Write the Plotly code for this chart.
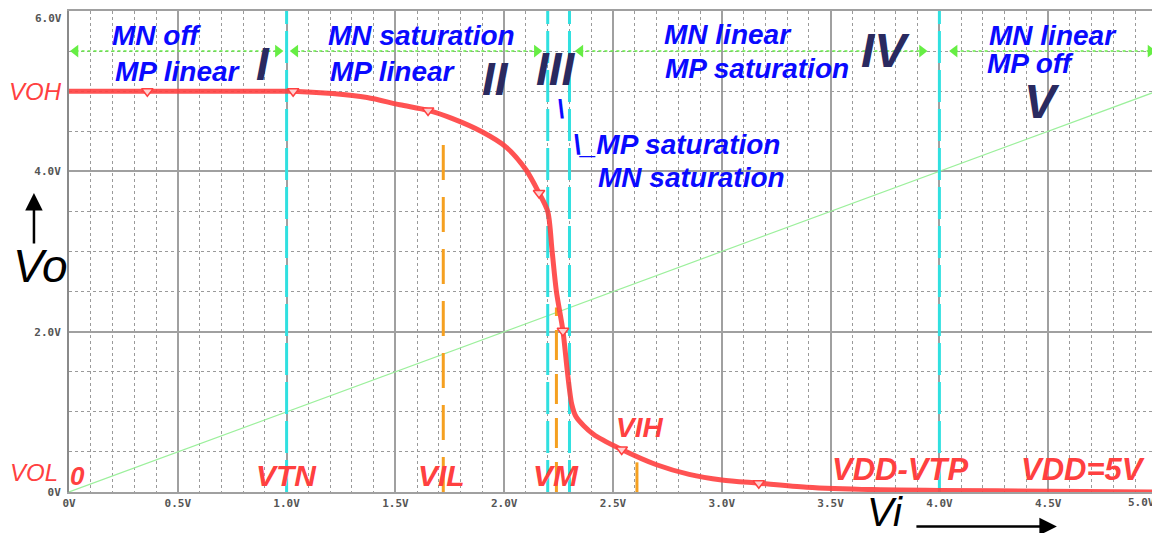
import plotly.graph_objects as go

# ---- data ----
vi = [0, 0.36, 1.0, 1.03, 1.21, 1.37, 1.52, 1.65, 1.76, 1.90, 2.01, 2.10, 2.16, 2.20, 2.22,
      2.24, 2.27, 2.29, 2.31, 2.33, 2.41, 2.54, 2.70, 2.85, 3.0, 3.17, 3.39, 3.69, 4.0, 4.5, 5.0]
vo = [5.0, 5.0, 5.0, 5.0, 4.97, 4.92, 4.83, 4.76, 4.66, 4.49, 4.30, 4.02, 3.73, 3.50, 3.01,
      2.50, 2.01, 1.51, 1.10, 0.94, 0.72, 0.53, 0.34, 0.22, 0.15, 0.11, 0.06, 0.03, 0.02, 0.01, 0.0]
marker_vi = [0.36, 1.03, 1.65, 2.16, 2.27, 2.54, 3.17]
marker_vo = [5.0, 5.0, 4.76, 3.73, 2.01, 0.53, 0.11]
diag_vi = [0, 5]
diag_vo = [0, 5]
region_bounds = [1.0, 2.2, 2.3, 4.0]          # cyan boundary lines
arrow_segments = [(0.03, 0.96), (1.04, 2.15), (2.35, 3.92), (4.07, 4.97)]
arrow_level = 5.5
vil, vm, vih = 1.72, 2.24, 2.61
vil_top, vm_top, vih_top = 4.47, 2.3, 0.37
x_tickvals = [0, 0.5, 1, 1.5, 2, 2.5, 3, 3.5, 4, 4.5, 5]
x_ticktext = ["0V", "0.5V", "1.0V", "1.5V", "2.0V", "2.5V", "3.0V", "3.5V", "4.0V", "4.5V", "5.0V"]
y_tickvals = [0, 2, 4, 6]
y_ticktext = ["0V", "2.0V", "4.0V", "6.0V"]
X_MAX, Y_MAX = 5.0, 6.0

RED = "#ff4040"
BLUE = "#0a0aff"
NAVY = "#2a2a60"
CYAN = "#30e0e0"
ORANGE = "#f5a020"
GREEN = "#66ee44"
FONT = "Liberation Sans, Arial, sans-serif"
TICKFONT = dict(family="DejaVu Sans Mono", size=11, color="#555", weight="bold")

fig = go.Figure()

# y = x reference line
fig.add_trace(go.Scatter(x=diag_vi, y=diag_vo, mode="lines",
                         line=dict(color="#9cf09c", width=1.2), hoverinfo="skip"))

# cyan region boundaries
for xb in region_bounds:
    fig.add_trace(go.Scatter(x=[xb, xb], y=[0, 6], mode="lines",
                             line=dict(color=CYAN, width=3, dash="32px,7px"), hoverinfo="skip"))

# orange VIL / VM / VIH lines
fig.add_trace(go.Scatter(x=[vil, vil], y=[0, vil_top], mode="lines",
                         line=dict(color=ORANGE, width=3, dash="35px,17px"), hoverinfo="skip"))
fig.add_trace(go.Scatter(x=[vm, vm], y=[0, vm_top], mode="lines",
                         line=dict(color=ORANGE, width=3, dash="30px,14px"), hoverinfo="skip"))
fig.add_trace(go.Scatter(x=[vih, vih], y=[0, vih_top], mode="lines",
                         line=dict(color=ORANGE, width=3), hoverinfo="skip"))

# green dashed arrows
for a, b in arrow_segments:
    fig.add_trace(go.Scatter(x=[a, b], y=[arrow_level, arrow_level], mode="lines+markers",
                             line=dict(color=GREEN, width=1.5, dash="dot"),
                             marker=dict(symbol=["triangle-left", "triangle-right"], size=11,
                                         color=GREEN),
                             hoverinfo="skip"))

# transfer curve
fig.add_trace(go.Scatter(x=vi, y=vo, mode="lines",
                         line=dict(color=RED, width=5, shape="spline", smoothing=0.8),
                         opacity=0.9, hoverinfo="skip"))
fig.add_trace(go.Scatter(x=marker_vi, y=marker_vo, mode="markers",
                         marker=dict(symbol="triangle-down", size=10, color="#ffd0d0",
                                     line=dict(color=RED, width=1.5)),
                         hoverinfo="skip"))


def txt(x, y, s, color, size, bold=True, italic=True, paper=False):
    ref = dict(xref="paper", yref="paper", x=x / X_MAX, y=y / Y_MAX) if paper else \
        dict(xref="x", yref="y", x=x, y=y)
    fig.add_annotation(**ref, text=s, showarrow=False, xanchor="center", yanchor="middle",
                       font=dict(family=FONT, size=size, color=color,
                                 weight="bold" if bold else "normal",
                                 style="italic" if italic else "normal"))


# blue region descriptions
txt(0.40, 5.70, "MN off", BLUE, 28)
txt(0.50, 5.25, "MP linear", BLUE, 28)
txt(1.62, 5.70, "MN saturation", BLUE, 28)
txt(1.49, 5.25, "MP linear", BLUE, 28)
txt(2.26, 4.78, "\\", BLUE, 26)
txt(2.79, 4.33, "\\_MP saturation", BLUE, 28)
txt(2.86, 3.92, "MN saturation", BLUE, 28)
txt(3.03, 5.71, "MN linear", BLUE, 28)
txt(3.16, 5.28, "MP saturation", BLUE, 28)
txt(4.52, 5.70, "MN linear", BLUE, 28)
txt(4.42, 5.34, "MP off", BLUE, 28)

# region numerals
txt(0.89, 5.34, "I", NAVY, 46)
txt(1.96, 5.15, "II", NAVY, 46)
txt(2.24, 5.28, "III", NAVY, 46)
txt(3.75, 5.51, "IV", NAVY, 48)
txt(4.47, 4.87, "V", NAVY, 48)

# red voltage labels
txt(-0.156, 4.99, "VOH", RED, 24, bold=False, paper=True)
txt(-0.161, 0.24, "VOL", RED, 24, bold=False, paper=True)
txt(0.041, 0.20, "0", RED, 26)
txt(1.00, 0.20, "VTN", RED, 30)
txt(1.71, 0.20, "VIL", RED, 30)
txt(2.24, 0.20, "VM", RED, 30)
txt(2.62, 0.80, "VIH", RED, 28)
txt(3.82, 0.28, "VDD-VTP", RED, 31)
txt(4.66, 0.28, "VDD=5V", RED, 31)

# axis names
txt(-0.133, 2.82, "Vo", "black", 46, bold=False, paper=True)
txt(3.75, -0.25, "Vi", "black", 40, bold=False, paper=True)
fig.add_annotation(x=4.54 / X_MAX, y=-0.43 / Y_MAX, ax=-142, ay=0, xref="paper", yref="paper",
                   text="", showarrow=True, arrowhead=2, arrowsize=1.4, arrowwidth=2.5,
                   arrowcolor="black")
fig.add_annotation(x=-0.161 / X_MAX, y=3.73 / Y_MAX, ax=0, ay=52, xref="paper", yref="paper",
                   text="", showarrow=True, arrowhead=2, arrowsize=1.4, arrowwidth=2.5,
                   arrowcolor="black")

# end tick labels sit inside the frame (as in the reference)
x_ticktext_axis = x_ticktext[:-1] + [""]
y_ticktext_axis = y_ticktext[:-1] + [""]
fig.add_annotation(xref="paper", yref="paper", x=1.0, y=0, yshift=-10, xanchor="right",
                   yanchor="middle", text=x_ticktext[-1], showarrow=False, font=TICKFONT)
fig.add_annotation(xref="paper", yref="paper", x=0, y=1.0, xshift=-5, yshift=1, xanchor="right",
                   yanchor="top", text=y_ticktext[-1], showarrow=False, font=TICKFONT)

# the page body adds an 8px margin, so the figure is 8px smaller and margins shifted
fig.update_layout(
    width=1152, height=525, autosize=False,
    margin=dict(l=61, r=3, t=3, b=41),
    paper_bgcolor="white", plot_bgcolor="white",
    showlegend=False,
    xaxis=dict(range=[0, X_MAX], tickmode="array", tickvals=x_tickvals, ticktext=x_ticktext_axis,
               showgrid=True, gridcolor="#a0a0a0", gridwidth=1.5, automargin=False,
               minor=dict(dtick=0.1, tick0=0, showgrid=True, gridcolor="#9a9a9a",
                          griddash="dot", gridwidth=1),
               showline=True, linecolor="#a0a0a0", linewidth=2, mirror=True,
               zeroline=False, ticks="", ticklabeloverflow="allow",
               tickfont=TICKFONT),
    yaxis=dict(range=[0, Y_MAX], tickmode="array", tickvals=y_tickvals, ticktext=y_ticktext_axis,
               showgrid=True, gridcolor="#a0a0a0", gridwidth=1.5, automargin=False,
               minor=dict(dtick=0.5, tick0=0, showgrid=True, gridcolor="#9a9a9a",
                          griddash="dot", gridwidth=1),
               showline=True, linecolor="#8a8a8a", linewidth=2, mirror=True,
               zeroline=False, ticks="", ticklabelstandoff=4, ticklabeloverflow="allow",
               tickfont=TICKFONT),
)

fig.write_html("out.html")
